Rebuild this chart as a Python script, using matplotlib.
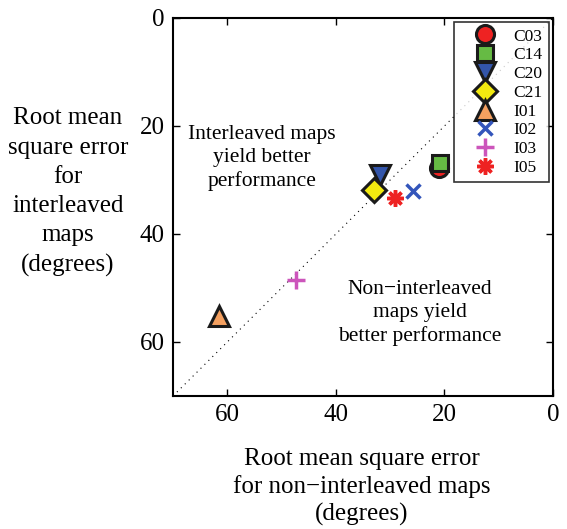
import matplotlib
matplotlib.use("Agg")
import matplotlib.pyplot as plt

labels = ["C03", "C14", "C20", "C21", "I01", "I02", "I03", "I05"]
non_interleaved = [21.0, 20.8, 31.9, 33.0, 61.5, 25.8, 47.3, 29.1]
interleaved = [27.8, 26.9, 29.1, 31.9, 55.2, 32.0, 48.5, 33.3]
markers = ["o", "s", "v", "D", "^", "x", "+", "*"]
colors = ["#ee2222", "#66bb44", "#3355aa", "#f2ea10", "#f4a060", "#3355bb", "#cc55bb", "#ee2222"]
sizes = [13, 11, 15, 12, 15, 10, 13, 12]
ticks = [0, 20, 40, 60]

plt.rcParams['font.family'] = ['Liberation Serif', 'DejaVu Serif']
fig = plt.figure(figsize=(5.67, 5.29), dpi=100)
ax = fig.add_axes([173/567, 1-396/529, 380/567, 378/529])

ax.plot([70, 0], [70, 0], linestyle=(0, (1, 4)), color='k', linewidth=0.8, zorder=1)
for lab, x, y, m, c, s in zip(labels, non_interleaved, interleaved, markers, colors, sizes):
    if m in ("x", "+"):
        ax.plot(x, y, m, color=c, markersize=s, markeredgewidth=2.5, label=lab, zorder=3)
    elif m == "*":
        ax.plot(x, y, marker=(8, 2, 0), linestyle='none', color=c, markersize=s, markeredgewidth=2.5, label=lab, zorder=3)
    else:
        ax.plot(x, y, m, markerfacecolor=c, markeredgecolor='#1a1a1a', markersize=s, markeredgewidth=2.2, label=lab, zorder=3)

ax.set_xlim(70, 0)
ax.set_ylim(70, 0)
ax.set_xticks(ticks)
ax.set_yticks(ticks)
ax.tick_params(direction='in', top=True, right=True, labelsize=18, length=5, width=1, pad=6)
for sp in ax.spines.values():
    sp.set_linewidth(1.5)

ax.text(53.6, 25.9, "Interleaved maps\nyield better\nperformance", ha='center', va='center', fontsize=15.5, linespacing=1.3)
ax.text(24.5, 54.6, "Non\u2212interleaved\nmaps yield\nbetter performance", ha='center', va='center', fontsize=15.5, linespacing=1.3)

leg = ax.legend(loc='upper right', fontsize=12.5, frameon=True, fancybox=False, edgecolor='k',
                borderaxespad=0.25, handletextpad=0.2, labelspacing=0.15, handlelength=2.9, borderpad=0.35)
leg.get_frame().set_linewidth(1.2)

fig.text(68/567, 1-192/529, "Root mean\nsquare error\nfor\ninterleaved\nmaps\n(degrees)", ha='center', va='center', fontsize=18, linespacing=1.42)
fig.text(362/567, 1-487/529, "Root mean square error\nfor non\u2212interleaved maps\n(degrees)", ha='center', va='center', fontsize=18, linespacing=1.3)

fig.savefig("out.png", dpi=100)
